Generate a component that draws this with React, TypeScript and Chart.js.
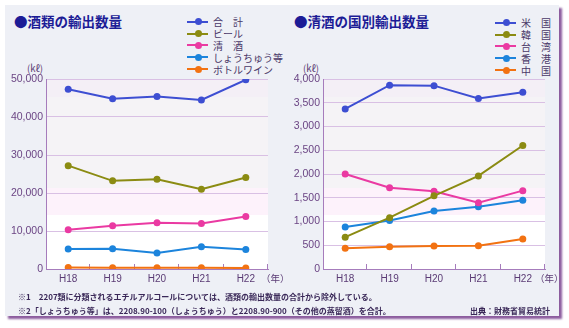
import React, { useEffect, useRef } from "react";
import { Chart, registerables } from "chart.js";

Chart.register(...registerables);

const years = ["H18", "H19", "H20", "H21", "H22"];

// Left chart: 酒類の輸出数量 (kℓ)
const leftLabels = ["合　計", "ビール", "清　酒", "しょうちゅう等", "ボトルワイン"];
const totalVals = [47300, 44800, 45400, 44500, 49800];
const beerVals = [27200, 23200, 23600, 21000, 24100];
const sakeVals = [10300, 11400, 12200, 12000, 13800];
const shochuVals = [5250, 5350, 4200, 5850, 5150];
const wineVals = [420, 330, 330, 330, 250];
const leftTicks = [0, 10000, 20000, 30000, 40000, 50000];

// Right chart: 清酒の国別輸出数量 (kℓ)
const rightLabels = ["米　国", "韓　国", "台　湾", "香　港", "中　国"];
const usVals = [3370, 3870, 3860, 3590, 3720];
const koreaVals = [670, 1080, 1540, 1960, 2600];
const taiwanVals = [2000, 1710, 1635, 1395, 1650];
const hkVals = [885, 1020, 1220, 1310, 1445];
const chinaVals = [435, 470, 485, 490, 630];
const rightTicks = [0, 500, 1000, 1500, 2000, 2500, 3000, 3500, 4000];

const seriesColors = ["#3d4ed2", "#8b8b12", "#ea3aa2", "#1c84dc", "#f27212"];

const JP = '"Noto Sans CJK JP", sans-serif';
const NUM = '"Liberation Sans", Arial, sans-serif';

const bandsPlugin = {
  id: "bands",
  beforeDraw(chart: any) {
    const { ctx, chartArea } = chart;
    const { left, right, top, bottom } = chartArea;
    const h = bottom - top;
    const w = right - left;
    const f = (r: number) => top + (r / 190) * h;
    ctx.save();
    ctx.fillStyle = "#f4eff6";
    ctx.fillRect(left, top, w, f(18) - top);
    ctx.fillStyle = "#f5f3f6";
    ctx.fillRect(left, f(18), w, f(109) - f(18));
    ctx.fillStyle = "#fdf2fb";
    ctx.fillRect(left, f(109), w, f(136) - f(109));
    ctx.fillStyle = "#ffffff";
    ctx.fillRect(left, f(136), w, bottom - f(136));
    ctx.restore();
  },
  beforeDatasetsDraw(chart: any) {
    const { ctx, chartArea } = chart;
    const { left, right, bottom } = chartArea;
    const n = chart.data.labels.length;
    const step = (right - left) / n;
    ctx.save();
    ctx.strokeStyle = "#a67cbc";
    ctx.lineWidth = 1;
    ctx.beginPath();
    for (let i = 1; i <= n; i++) {
      const x = Math.round(left + i * step) - 0.5;
      ctx.moveTo(x, bottom);
      ctx.lineTo(x, bottom - 5);
    }
    ctx.stroke();
    ctx.restore();
  },
};

function makeConfig(labels: string[], series: number[][], names: string[], max: number, step: number, ticks: number[]) {
  return {
    type: "line" as const,
    data: {
      labels,
      datasets: series.map((d, i) => ({
        label: names[i],
        data: d,
        borderColor: seriesColors[i],
        backgroundColor: seriesColors[i],
        borderWidth: 2,
        pointRadius: 3.5,
        pointBorderWidth: 0,
        pointHoverRadius: 3.5,
        tension: 0,
        fill: false,
      })),
    },
    options: {
      animation: false as const,
      responsive: false,
      maintainAspectRatio: false,
      layout: { padding: { left: 0, right: 17, top: 19, bottom: 0 } },
      plugins: { legend: { display: false }, tooltip: { enabled: false }, title: { display: false } },
      scales: {
        x: {
          offset: true,
          grid: { display: false, drawTicks: false },
          border: { color: "#a67cbc", width: 1 },
          ticks: { color: "#5a3a74", font: { family: NUM, size: 10 }, padding: 4 },
          afterFit(s: any) {
            s.height = 21;
          },
        },
        y: {
          min: 0,
          max,
          afterBuildTicks(s: any) {
            s.ticks = ticks.map((v) => ({ value: v }));
          },
          ticks: {
            stepSize: step,
            color: "#6b4584",
            font: { family: NUM, size: 10.5 },
            padding: 3,
            callback: (v: any) => Number(v).toLocaleString("en-US"),
          },
          grid: { color: "#d9c0e4", lineWidth: 1, drawTicks: false },
          border: { color: "#a67cbc", width: 1 },
          afterFit(s: any) {
            s.width = 46;
          },
        },
      },
    },
    plugins: [bandsPlugin],
  };
}

function Legend({ names, left, top }: { names: string[]; left: number; top: number }) {
  return (
    <div style={{ position: "absolute", left, top }}>
      {names.map((n, i) => (
        <div key={n} style={{ position: "relative", height: 11.8, display: "flex", alignItems: "center" }}>
          <div style={{ position: "relative", width: 21, height: 2, background: seriesColors[i], flex: "none" }}>
            <div
              style={{
                position: "absolute",
                left: 7.5,
                top: -2.5,
                width: 7,
                height: 7,
                borderRadius: 4,
                background: seriesColors[i],
              }}
            />
          </div>
          <span
            style={{
              marginLeft: 5,
              fontFamily: JP,
              fontSize: 10,
              color: "#4a3868",
              whiteSpace: "nowrap",
              lineHeight: "11px",
            }}
          >
            {n}
          </span>
        </div>
      ))}
    </div>
  );
}

export default function App() {
  const leftRef = useRef<HTMLCanvasElement | null>(null);
  const rightRef = useRef<HTMLCanvasElement | null>(null);

  useEffect(() => {
    const c1 = new Chart(
      leftRef.current as HTMLCanvasElement,
      makeConfig(years, [totalVals, beerVals, sakeVals, shochuVals, wineVals], leftLabels, 50000, 10000, leftTicks) as any
    );
    const c2 = new Chart(
      rightRef.current as HTMLCanvasElement,
      makeConfig(years, [usVals, koreaVals, taiwanVals, hkVals, chinaVals], rightLabels, 4000, 500, rightTicks) as any
    );
    return () => {
      c1.destroy();
      c2.destroy();
    };
  }, []);

  const titleStyle: React.CSSProperties = {
    position: "absolute",
    top: 13,
    fontFamily: JP,
    fontWeight: 700,
    fontSize: 13.5,
    color: "#1c1c96",
    whiteSpace: "nowrap",
    lineHeight: "17px",
  };
  const smallStyle: React.CSSProperties = {
    position: "absolute",
    fontFamily: JP,
    fontSize: 9.5,
    color: "#5a3a74",
    whiteSpace: "nowrap",
    lineHeight: "12px",
  };
  const noteStyle: React.CSSProperties = {
    position: "absolute",
    fontFamily: JP,
    fontSize: 8,
    fontWeight: 700,
    color: "#3a2858",
    whiteSpace: "nowrap",
    lineHeight: "11px",
  };

  return (
    <div style={{ position: "fixed", left: 0, top: 0, width: 569, height: 328, background: "#ffffff", overflow: "hidden" }}>
      <div
        style={{
          position: "absolute",
          left: 5,
          top: 5,
          width: 554,
          height: 311,
          background: "#eef0f6",
          boxShadow: "3px 3px 2px #8c5c9e",
        }}
      />
      <div style={{ ...titleStyle, left: 14 }}>●酒類の輸出数量</div>
      <div style={{ ...titleStyle, left: 294 }}>●清酒の国別輸出数量</div>
      <Legend names={leftLabels} left={187} top={16} />
      <Legend names={rightLabels} left={495} top={17} />
      <div style={{ ...smallStyle, left: 27, top: 62 }}>(kℓ)</div>
      <div style={{ ...smallStyle, left: 303, top: 62 }}>(kℓ)</div>
      <canvas ref={leftRef} width={285} height={230} style={{ position: "absolute", left: 0, top: 60, width: 285, height: 230 }} />
      <canvas ref={rightRef} width={285} height={230} style={{ position: "absolute", left: 277, top: 60, width: 285, height: 230 }} />
      <div style={{ ...smallStyle, left: 261, top: 272 }}>（年）</div>
      <div style={{ ...smallStyle, left: 535, top: 272 }}>（年）</div>
      <div style={{ ...noteStyle, left: 18, top: 291 }}>
        ※1　2207類に分類されるエチルアルコールについては、酒類の輸出数量の合計から除外している。
      </div>
      <div style={{ ...noteStyle, left: 18, top: 305 }}>
        ※2「しょうちゅう等」は、2208.90-100（しょうちゅう）と2208.90-900（その他の蒸留酒）を合計。
      </div>
      <div style={{ ...noteStyle, left: 470, top: 305 }}>出典：財務省貿易統計</div>
    </div>
  );
}
